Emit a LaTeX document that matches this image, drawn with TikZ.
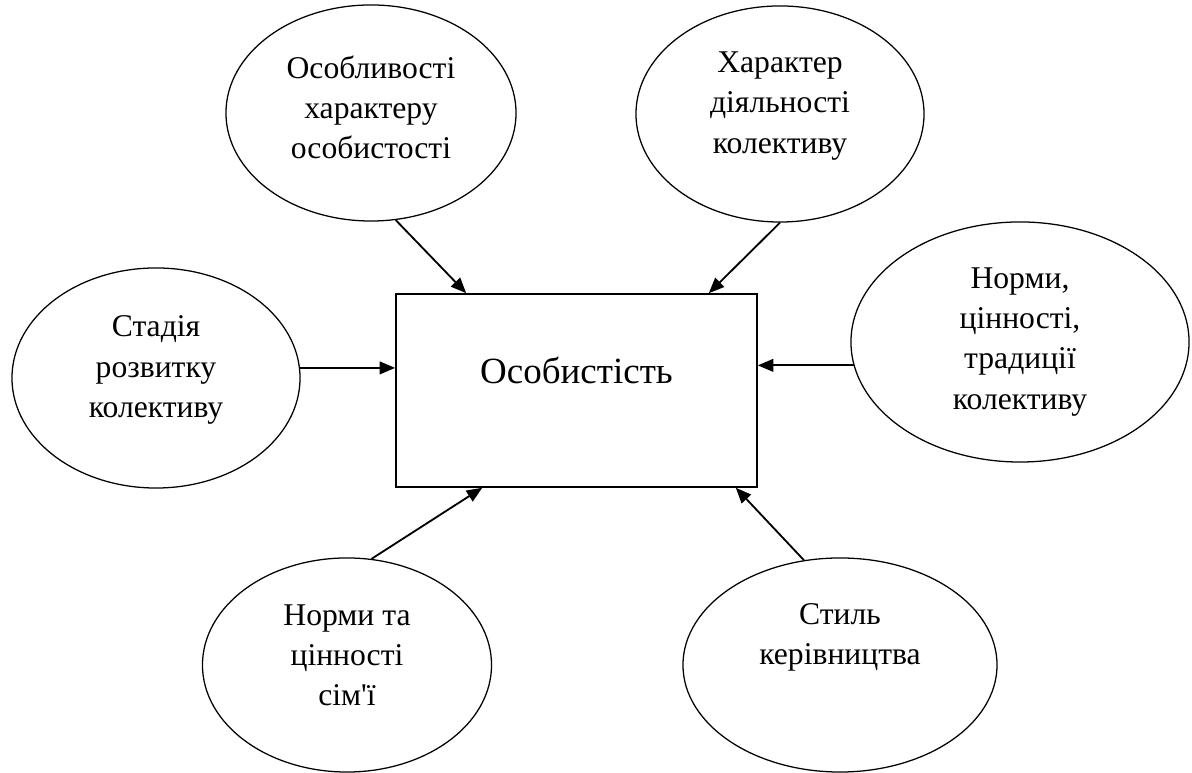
\documentclass[tikz,border=0pt]{standalone}
\usepackage{fontspec}
\setmainfont{Liberation Serif}
\usetikzlibrary{shapes.geometric, arrows.meta}
\tikzset{
  >={Triangle[length=11pt, width=9pt]}, % filled arrow heads
  factor/.style={draw, ellipse, line width=0.9pt, inner sep=0pt}, % the ellipses round the centre
  factor text/.style={align=center, font=\fontsize{22.5}{28.5}\selectfont}, % text inside an ellipse
  influence/.style={->, line width=1.3pt}, % arrows pointing at the centre
}

\begin{document}
\begin{tikzpicture}[x=0.025cm, y=0.025cm]
    \useasboundingbox (0,0) rectangle (1192,773);
    % Centre
    \node[draw, line width=1.1pt, minimum width=9.025cm, minimum height=4.825cm] (person) at (576.5,382.5) {};
    \node[font=\fontsize{26.3}{32}\selectfont] (persontext) at ([yshift=0.5cm]person.center) {Особистість};

    % Factors
    \node[factor, minimum width=7.25cm, minimum height=5.4cm] (traits) at (371,660) {};
    \node[factor text] (traitstext) at ([yshift=0.15cm]traits.center) {Особливості\\характеру\\особистості};
    \node[factor, minimum width=7.2cm, minimum height=5.4cm] (activity) at (780,659) {};
    \node[factor text] (activitytext) at ([yshift=0.2cm]activity.center) {Характер\\діяльності\\колективу};
    \node[factor, minimum width=7.2cm, minimum height=5.5cm] (stage) at (156,395) {};
    \node[factor text] (stagetext) at ([yshift=0.2cm]stage.center) {Стадія\\розвитку\\колективу};
    \node[factor, minimum width=8.45cm, minimum height=6cm] (norms) at (1020,431) {};
    \node[factor text] (normstext) at (norms.center) {Норми,\\цінності,\\традиції\\колективу};
    \node[factor, minimum width=7.225cm, minimum height=5.35cm] (family) at (347,108) {};
    \node[factor text] (familytext) at ([yshift=0.25cm]family.center) {Норми та\\цінності\\сім\textquotesingle ї};
    \node[factor, minimum width=7.85cm, minimum height=5.35cm] (leadership) at (840,108) {};
    \node[factor text] (leadershiptext) at ([yshift=0.7cm]leadership.center) {Стиль\\керівництва};

    % Influences
    \draw[influence] (traits.283) -- ([xshift=1.775cm]person.north west);
    \draw[influence] (activity.south) -- ([xshift=-1.225cm]person.north east);
    \draw[influence] (stage.4) -- (stage.4 -| person.west);
    \draw[influence] (norms.188) -- (norms.188 -| person.east);
    \draw[influence] (family.77) -- ([xshift=2.175cm]person.south west);
    \draw[influence] (leadership.109) -- ([xshift=-0.55cm]person.south east);
\end{tikzpicture}
\end{document}
